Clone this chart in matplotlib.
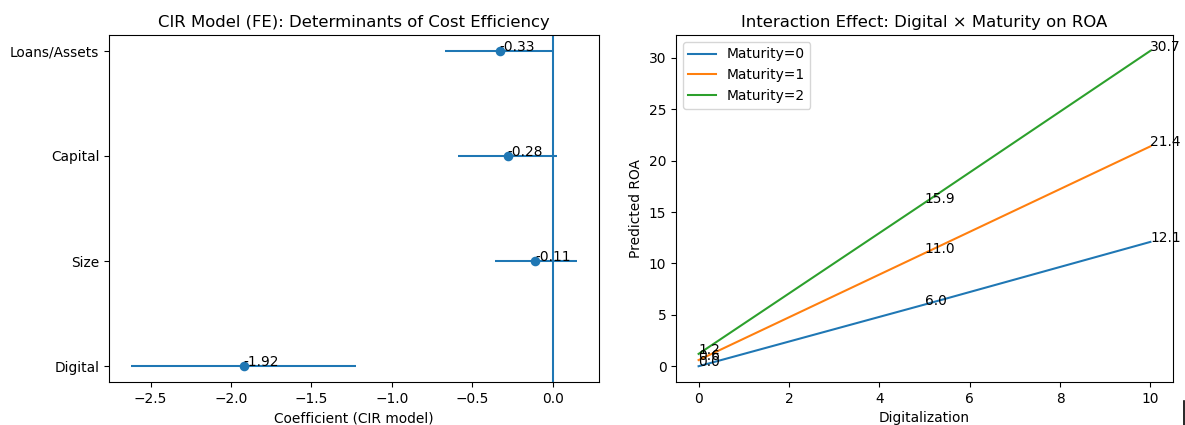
import matplotlib
matplotlib.use("Agg")
import matplotlib.pyplot as plt
from matplotlib.lines import Line2D
import numpy as np

# Left panel data
variables = ["Digital", "Size", "Capital", "Loans/Assets"]
coefs = [-1.92, -0.11, -0.28, -0.33]
ci_low = [-2.62, -0.36, -0.59, -0.67]
ci_high = [-1.22, 0.15, 0.03, 0.00]

# Right panel data
digitalization = [0, 5, 10]
maturity_levels = [0, 1, 2]
roa_m0 = [0.0, 6.0, 12.1]
roa_m1 = [0.6, 11.0, 21.4]
roa_m2 = [1.2, 15.9, 30.7]

W, H = 1185, 425
dpi = W / 12
fig = plt.figure(figsize=(12, H / dpi), dpi=dpi)

ax1 = fig.add_axes([109 / W, 43 / H, (599 - 109) / W, (382 - 35) / H])
ax2 = fig.add_axes([676 / W, 43 / H, (1173 - 676) / W, (382 - 35) / H])

ypos = np.arange(len(variables))
coefs_a = np.array(coefs)
xerr = np.vstack([coefs_a - np.array(ci_low), np.array(ci_high) - coefs_a])
ax1.errorbar(coefs_a, ypos, xerr=xerr, fmt='o')
ax1.axvline(0)
for c, y in zip(coefs, ypos):
    ax1.text(c, y, f"{c:.2f}")
ax1.set_yticks(ypos)
ax1.set_yticklabels(variables)
ax1.set_xlabel("Coefficient (CIR model)")
ax1.set_title("CIR Model (FE): Determinants of Cost Efficiency")

for m, vals in zip(maturity_levels, [roa_m0, roa_m1, roa_m2]):
    ax2.plot(digitalization, vals, label=f"Maturity={m}")
    for xv, yv in zip(digitalization, vals):
        ax2.text(xv, yv, f"{yv:.1f}")
ax2.set_xlabel("Digitalization")
ax2.set_ylabel("Predicted ROA")
ax2.set_title("Interaction Effect: Digital × Maturity on ROA")
ax2.legend(loc="upper left")

fig.add_artist(Line2D([1183.5 / W, 1183.5 / W], [0, 24 / H], color="black", lw=1.2))

fig.savefig("out.png", dpi=dpi)
